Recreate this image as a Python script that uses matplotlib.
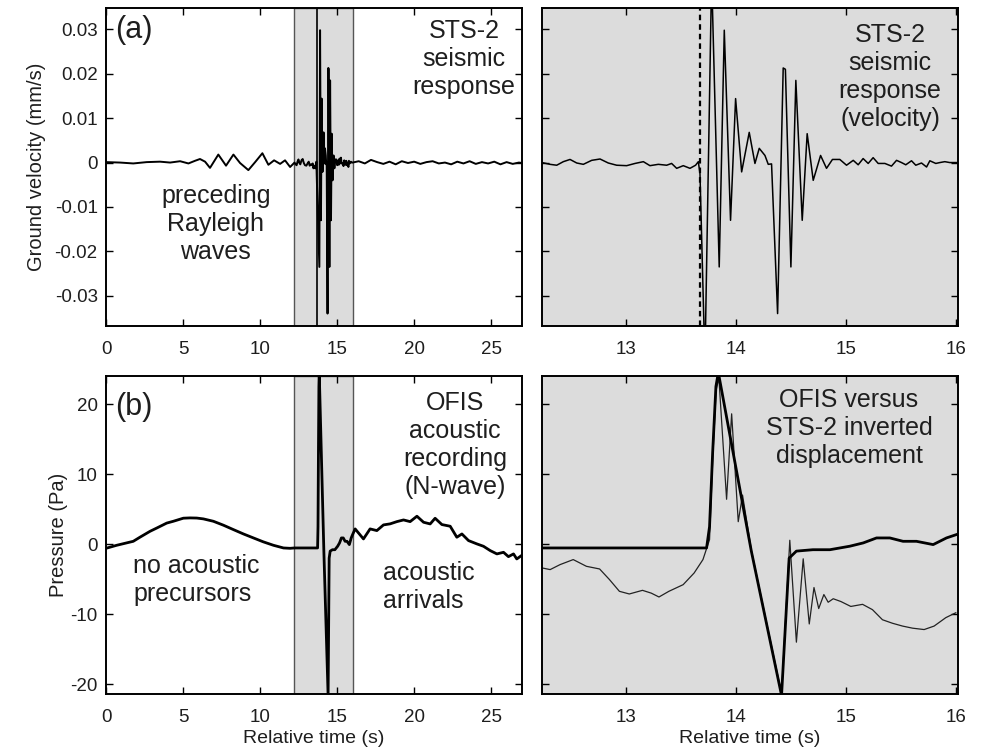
import numpy as np
import matplotlib
matplotlib.use("Agg")
import matplotlib.pyplot as plt

plt.rcParams['font.family'] = ['Liberation Sans', 'DejaVu Sans']
plt.rcParams['axes.unicode_minus'] = False

# ---------------- data ----------------
# STS-2 velocity (mm/s), detail window 12.2-16 s
vel_t = [12.236, 12.309, 12.370, 12.430, 12.491, 12.552, 12.612, 12.688, 12.764, 12.839,
         12.915, 13.006, 13.082, 13.158, 13.218, 13.294, 13.370, 13.415, 13.461, 13.521,
         13.582, 13.633, 13.658, 13.673, 13.718, 13.779, 13.848, 13.894, 13.951, 13.997,
         14.052, 14.121, 14.173, 14.212, 14.264, 14.294, 14.324, 14.379, 14.430, 14.450,
         14.500, 14.545, 14.603, 14.648, 14.703, 14.770, 14.824, 14.878, 14.945, 15.006,
         15.067, 15.112, 15.157, 15.203, 15.248, 15.294, 15.355, 15.415, 15.461, 15.506,
         15.545, 15.597, 15.636, 15.688, 15.734, 15.764, 15.818, 15.855, 15.900, 15.945,
         16.006]
vel_v = [0.0, -0.0004, -0.0006, 0.0002, 0.0007, -0.0001, -0.0004, 0.0005, 0.0008, -0.0001,
         -0.0006, -0.0007, -0.0002, 0.0002, -0.0007, -0.0004, -0.0006, -0.0002, -0.0013, -0.0007,
         -0.0013, -0.0006, 0.0002, -0.0025, -0.045, 0.042, -0.0235, 0.0298, -0.0130, 0.0144,
         -0.0021, 0.0068, -0.0002, 0.0032, 0.0016, -0.0004, -0.0003, -0.0340, 0.0213, 0.0210,
         -0.0235, 0.0185, -0.0130, 0.0065, -0.0040, 0.0016, -0.0013, 0.0007, 0.0007, -0.0006,
         0.0005, -0.0005, 0.0009, -0.0002, 0.0011, -0.0002, -0.0002, -0.0008, 0.0005, 0.0,
         -0.0005, 0.0004, -0.0006, -0.0001, -0.0010, 0.0004, -0.0002, 0.0, 0.0002, 0.0,
         0.0]
# extremes not resolved in the decimated overview trace
overview_skip_t = [13.718, 13.779]

# STS-2 velocity overview outside the window
vel_pre_t = [0.0, 0.91, 1.77, 2.64, 3.51, 4.16, 4.81, 5.35, 5.78, 6.10, 6.43, 6.75, 7.29,
             7.79, 8.27, 8.70, 9.24, 9.68, 10.15, 10.54, 10.91, 11.30, 11.62, 11.95]
vel_pre_v = [0.0001, 0.0, -0.0002, 0.0001, 0.0002, 0.0, 0.0003, -0.0002, 0.0004, 0.0008,
             0.0002, -0.0012, 0.0018, -0.0007, 0.0018, -0.0001, -0.0017, 0.0001, 0.0021,
             -0.0005, 0.0005, -0.0003, 0.0005, -0.0010]
vel_post_t = [16.4, 16.8, 17.2, 17.6, 18.0, 18.4, 18.8, 19.2, 19.6, 20.0, 20.4, 20.8, 21.2,
              21.6, 22.0, 22.4, 22.8, 23.2, 23.6, 24.0, 24.4, 24.8, 25.2, 25.6, 26.0, 26.4,
              26.8, 27.0]
vel_post_v = [0.0003, -0.0002, 0.0006, 0.0001, -0.0003, 0.0002, -0.0004, 0.0003, -0.0001,
              0.0002, -0.0003, 0.0001, 0.0003, -0.0002, 0.0, -0.0004, 0.0002, -0.0002, 0.0003,
              -0.0003, 0.0001, -0.0002, 0.0002, -0.0004, 0.0001, -0.0003, 0.0, -0.0001]

# OFIS pressure (Pa), detail window
ofis_t = [12.236, 13.0, 13.733, 13.760, 13.788, 13.818, 13.840, 14.140, 14.415, 14.484,
          14.550, 14.700, 14.855, 15.036, 15.158, 15.279, 15.400, 15.520, 15.642, 15.794,
          15.915, 16.006]
ofis_p = [-0.55, -0.55, -0.55, 2.5, 13.0, 22.5, 24.5, -1.0, -21.6, -2.0,
          -1.0, -0.8, -0.8, -0.3, 0.17, 0.88, 0.88, 0.4, 0.4, -0.07,
          0.88, 1.36]
ofis_pre_t = [0.0, 0.69, 1.77, 2.2, 2.86, 3.3, 3.94, 4.37, 5.02, 5.45, 5.89, 6.32, 6.97,
              7.62, 8.27, 8.92, 9.57, 10.2, 10.87, 11.52, 11.95]
ofis_pre_p = [-0.6, -0.17, 0.4, 0.98, 1.83, 2.3, 3.0, 3.26, 3.7, 3.74, 3.72, 3.6, 3.26,
              2.7, 2.07, 1.45, 0.88, 0.33, -0.17, -0.55, -0.6]
ofis_post_t = [16.17, 16.71, 17.14, 17.58, 18.01, 18.44, 18.88, 19.31, 19.74, 20.18, 20.61,
               21.04, 21.36, 21.80, 22.34, 22.77, 23.10, 23.53, 24.07, 24.50, 24.94, 25.37,
               25.80, 26.12, 26.45, 26.66, 26.99]
ofis_post_p = [2.17, 0.74, 2.17, 1.93, 2.74, 2.89, 3.21, 3.45, 3.21, 3.98, 3.12,
               2.88, 3.69, 2.79, 2.55, 0.98, 1.45, 0.5, 0.03, -0.31, -0.93, -1.4,
               -1.17, -1.79, -1.4, -2.12, -1.6]

# STS-2 inverted displacement (scaled to Pa)
sts_t = [12.236, 12.31, 12.40, 12.52, 12.64, 12.76, 12.85, 12.94, 13.03, 13.15, 13.23, 13.30,
         13.39, 13.52, 13.62, 13.70, 13.76, 13.79, 13.82, 13.845, 13.915, 13.961, 14.021,
         14.060, 14.142, 14.280, 14.415, 14.490, 14.550, 14.612, 14.667, 14.710, 14.753,
         14.800, 14.839, 14.885, 14.955, 15.045, 15.152, 15.242, 15.333, 15.424, 15.515,
         15.606, 15.712, 15.803, 15.909, 16.0]
sts_p = [-3.4, -3.64, -2.93, -2.21, -3.17, -3.55, -5.07, -6.74, -7.12, -6.6, -7.0, -7.55,
         -6.74, -5.79, -4.12, -2.21, 0.64, 12.5, 22.0, 23.7, 6.4, 18.6, 3.2,
         7.0, -1.0, -11.3, -21.3, 0.55, -14.0, -2.1, -11.4, -6.2, -9.2,
         -7.2, -8.3, -7.8, -8.2, -8.9, -8.6, -9.36, -10.8, -11.3, -11.7,
         -12.0, -12.2, -11.7, -10.5, -9.8]

window = (12.2, 16.05)
onset_t = 13.675

# ---------------- figure ----------------
W, H = 985, 751
fig = plt.figure(figsize=(W / 100, H / 100), dpi=100)

def ax_at(l, t, r, b):
    return fig.add_axes([l / W, 1 - b / H, (r - l) / W, (b - t) / H])

ax1 = ax_at(106, 8, 522, 326)
ax2 = ax_at(542, 8, 958, 326)
ax3 = ax_at(106, 376, 522, 694)
ax4 = ax_at(542, 376, 958, 694)

TXT = '#1e1e1e'
SHADE = '#dcdcdc'

for ax in (ax1, ax2, ax3, ax4):
    ax.tick_params(direction='in', length=5, width=1, top=True, right=True,
                   labelsize=13.5, colors='black', labelcolor=TXT)
    ax.tick_params(axis='x', pad=10.5)
    ax.tick_params(axis='y', pad=6)
    for s in ax.spines.values():
        s.set_linewidth(1.4)

# overview velocity
vt = np.array(vel_t); vv = np.array(vel_v)
keep = ~np.isin(vt, overview_skip_t)
ov_t = np.concatenate([vel_pre_t, vt[keep], vel_post_t])
ov_v = np.concatenate([vel_pre_v, vv[keep], vel_post_v])

ax1.axvspan(*window, facecolor=SHADE, edgecolor='#555555', linewidth=1.0, zorder=0)
ax1.axvline(onset_t, color='black', lw=1.2, zorder=1)
ax1.plot(ov_t, ov_v, color='black', lw=1.4, zorder=2)
ax1.set_xlim(0, 27)
ax1.set_ylim(-0.0368, 0.0348)
ax1.set_xticks([0, 5, 10, 15, 20, 25])
ax1.set_yticks([-0.03, -0.02, -0.01, 0, 0.01, 0.02, 0.03])
ax1.set_yticklabels(['-0.03', '-0.02', '-0.01', '0', '0.01', '0.02', '0.03'])
ax1.set_ylabel('Ground velocity (mm/s)', fontsize=14.5, color=TXT, labelpad=6)
ax1.text(0.022, 0.931, '(a)', transform=ax1.transAxes, fontsize=22, color=TXT,
         ha='left', va='center')
ax1.text(0.861, 0.84, 'STS-2\nseismic\nresponse', transform=ax1.transAxes, fontsize=18,
         color=TXT, ha='center', va='center', multialignment='center')
ax1.text(0.264, 0.321, 'preceding\nRayleigh\nwaves', transform=ax1.transAxes, fontsize=18,
         color=TXT, ha='center', va='center', multialignment='center')

# detail velocity
ax2.set_facecolor(SHADE)
ax2.axvline(onset_t, color='black', lw=1.6, ls=(0, (2.5, 1.8)), zorder=1)
ax2.plot(vel_t, vel_v, color='black', lw=1.1, zorder=2)
ax2.set_xlim(12.236, 16.02)
ax2.set_ylim(-0.0368, 0.0348)
ax2.set_xticks([13, 14, 15, 16])
ax2.set_yticks([-0.03, -0.02, -0.01, 0, 0.01, 0.02, 0.03])
ax2.set_yticklabels([])
ax2.text(0.8365, 0.783, 'STS-2\nseismic\nresponse\n(velocity)', transform=ax2.transAxes,
         fontsize=18, color=TXT, ha='center', va='center', multialignment='center')

# overview pressure
ofis_all_t = np.concatenate([ofis_pre_t, ofis_t, ofis_post_t])
ofis_all_p = np.concatenate([ofis_pre_p, ofis_p, ofis_post_p])
ax3.axvspan(*window, facecolor=SHADE, edgecolor='#555555', linewidth=1.0, zorder=0)
ax3.plot(ofis_all_t, ofis_all_p, color='black', lw=2.0, zorder=2)
ax3.set_xlim(0, 27)
ax3.set_ylim(-21.4, 24.0)
ax3.set_xticks([0, 5, 10, 15, 20, 25])
ax3.set_yticks([-20, -10, 0, 10, 20])
ax3.set_ylabel('Pressure (Pa)', fontsize=14.5, color=TXT, labelpad=2)
ax3.set_xlabel('Relative time (s)', fontsize=14, color=TXT, labelpad=3)
ax3.text(0.022, 0.9025, '(b)', transform=ax3.transAxes, fontsize=22, color=TXT,
         ha='left', va='center')
ax3.text(0.839, 0.783, 'OFIS\nacoustic\nrecording\n(N-wave)', transform=ax3.transAxes,
         fontsize=18, color=TXT, ha='center', va='center', multialignment='center')
ax3.text(0.066, 0.358, 'no acoustic\nprecursors', transform=ax3.transAxes, fontsize=18,
         color=TXT, ha='left', va='center', multialignment='left')
ax3.text(0.667, 0.336, 'acoustic\narrivals', transform=ax3.transAxes, fontsize=18,
         color=TXT, ha='left', va='center', multialignment='left')

# detail pressure
ax4.set_facecolor(SHADE)
ax4.plot(sts_t, sts_p, color='#222222', lw=0.9, zorder=2)
ax4.plot(ofis_t, ofis_p, color='black', lw=2.0, zorder=3)
ax4.set_xlim(12.236, 16.02)
ax4.set_ylim(-21.4, 24.0)
ax4.set_xticks([13, 14, 15, 16])
ax4.set_yticks([-20, -10, 0, 10, 20])
ax4.set_yticklabels([])
ax4.set_xlabel('Relative time (s)', fontsize=14, color=TXT, labelpad=3)
ax4.text(0.738, 0.836, 'OFIS versus\nSTS-2 inverted\ndisplacement', transform=ax4.transAxes,
         fontsize=18, color=TXT, ha='center', va='center', multialignment='center')

fig.savefig('out.png', dpi=100)
